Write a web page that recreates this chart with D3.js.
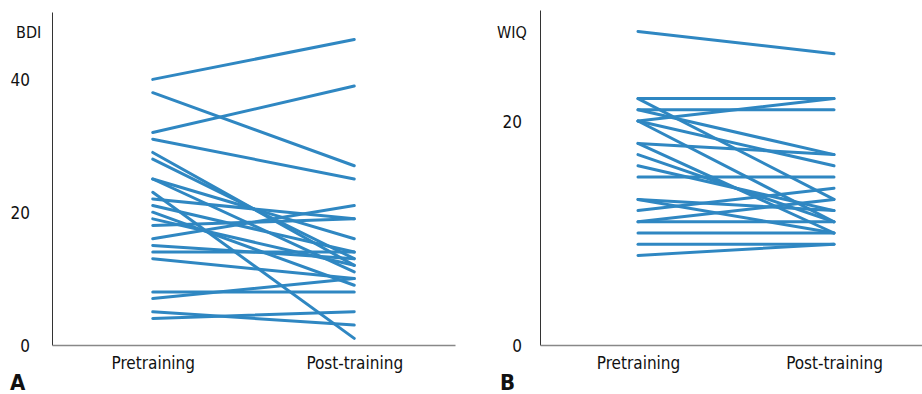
<!DOCTYPE html>
<html>
<head>
<meta charset="utf-8">
<script src="https://cdn.jsdelivr.net/npm/d3@7"></script>
<style>
  html, body { margin: 0; padding: 0; background: #fff; }
  svg text { font-family: "DejaVu Sans", sans-serif; font-stretch: condensed; fill: #111; }
</style>
</head>
<body>
<svg id="chart" width="922" height="394"></svg>
<script>
// categories on the x axis
const categories = ["Pretraining", "Post-training"];

// BDI scores, one line per participant (pre -> post)
const bdiPre  = [40, 38, 32, 31, 29, 28, 25, 25, 23, 22, 21, 20, 19, 18, 16, 15, 14, 13, 8, 7, 5, 4];
const bdiPost = [46, 27, 39, 25, 12, 13, 16, 11, 1, 19, 14, 9, 12, 19, 21, 13, 14, 10, 8, 10, 3, 5];
const bdiTicks = [0, 20, 40];

// WIQ scores
const wiqPre  = [28, 22, 22, 21, 21, 20, 20, 20, 18, 18, 17, 16, 15, 13, 13, 12, 11, 11, 10, 9, 8];
const wiqPost = [26, 22, 13, 21, 17, 22, 16, 11, 17, 10, 11, 12, 15, 12, 10, 14, 11, 13, 10, 9, 9];
const wiqTicks = [0, 20];

const lineColor = "#2f87c2";
const svg = d3.select("#chart");

function panel(opt) {
    const g = svg.append("g");

    const x = d3.scalePoint()
        .domain(categories)
        .range([opt.left, opt.right])
        .padding(0.5);

    const y = d3.scaleLinear()
        .domain([0, opt.yMax])
        .range([345, opt.top]);

    // lines
    const pairs = opt.pre.map((p, i) => [p, opt.post[i]]);
    g.selectAll("line.subj").data(pairs).join("line")
        .attr("class", "subj")
        .attr("x1", x(categories[0]))
        .attr("x2", x(categories[1]))
        .attr("y1", d => y(d[0]))
        .attr("y2", d => y(d[1]))
        .attr("stroke", lineColor)
        .attr("stroke-width", 3)
        .attr("stroke-linecap", "round");

    // y axis
    g.append("g")
        .attr("transform", `translate(${opt.left},0)`)
        .call(d3.axisLeft(y).tickValues(opt.ticks).tickSize(0).tickPadding(opt.pad).tickFormat(d3.format("d")))
        .call(a => a.select(".domain").attr("stroke", "#333").attr("stroke-width", 1))
        .call(a => a.selectAll("text").style("font-size", "17px").attr("dy", "0.36em"));

    // x axis
    g.append("g")
        .attr("transform", "translate(0,345)")
        .call(d3.axisBottom(x).tickSize(0).tickPadding(12).tickSizeOuter(0))
        .call(a => a.select(".domain").attr("stroke", "#888").attr("stroke-width", 1.5))
        .call(a => a.selectAll("text").style("font-size", "17px"));

    // axis title
    g.append("text")
        .attr("x", opt.titleX).attr("y", 38)
        .style("font-size", "16px")
        .text(opt.title);

    // panel letter
    g.append("text")
        .attr("x", opt.letterX).attr("y", 390)
        .style("font-size", "22px")
        .style("font-weight", "bold")
        .text(opt.letter);
}

panel({ left: 52, right: 455, top: 12, yMax: (345 - 12) / 6.64,
        pre: bdiPre, post: bdiPost, ticks: bdiTicks, pad: 22,
        title: "BDI", titleX: 16, letter: "A", letterX: 10 });

panel({ left: 540, right: 932, top: 10, yMax: (345 - 10) / 11.2,
        pre: wiqPre, post: wiqPost, ticks: wiqTicks, pad: 18,
        title: "WIQ", titleX: 497, letter: "B", letterX: 500 });
</script>
</body>
</html>
